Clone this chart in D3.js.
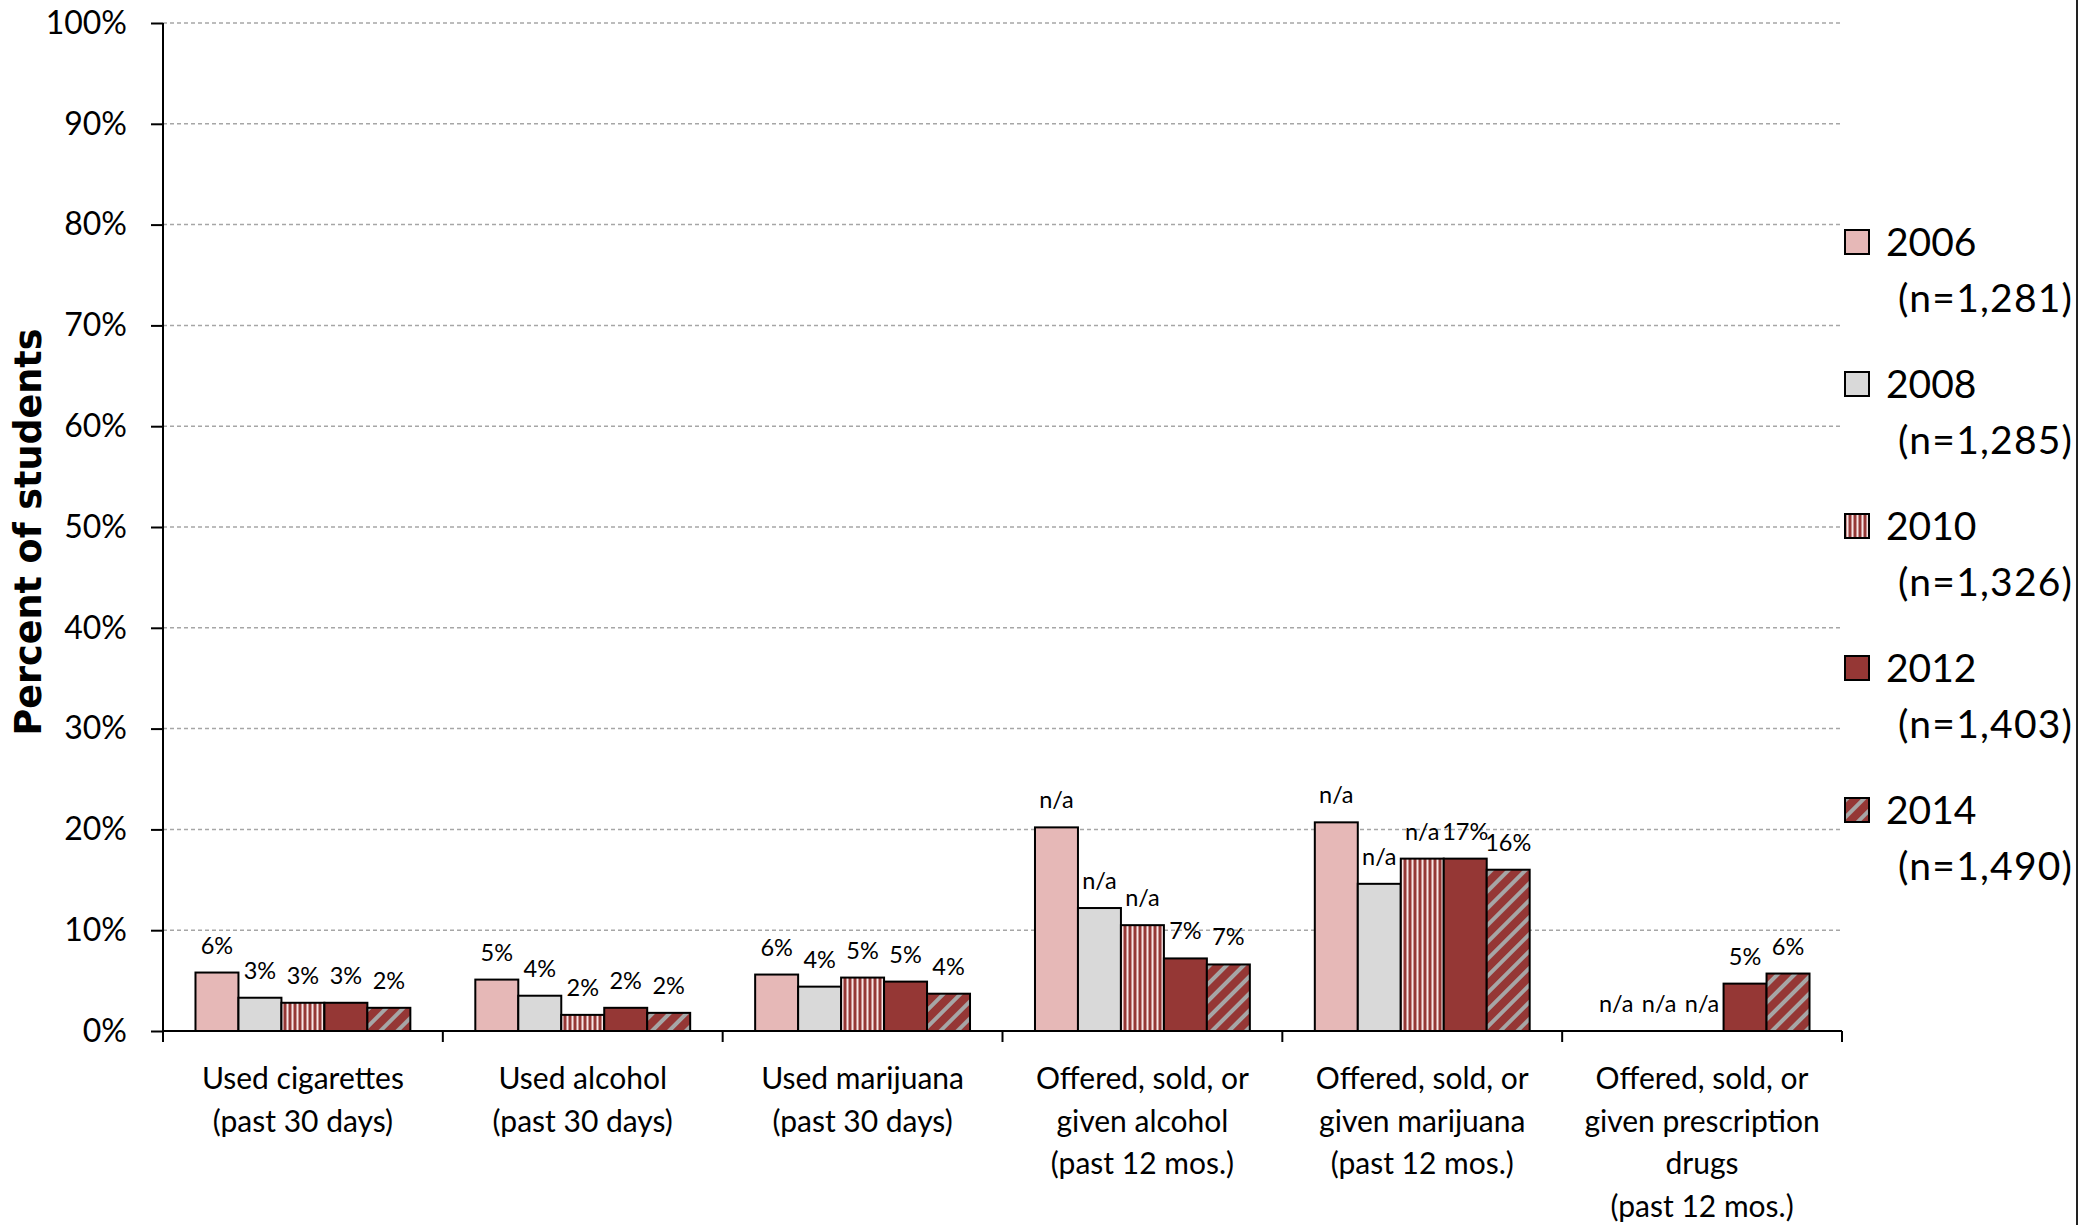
<!DOCTYPE html>
<html>
<head>
<meta charset="utf-8">
<script src="https://cdn.jsdelivr.net/npm/d3@7"></script>
<style>
  html, body { margin: 0; padding: 0; background: #fff; }
  svg { display: block; }
</style>
</head>
<body>
<svg id="chart" width="2078" height="1225"></svg>
<script>
// ---------- DATA ----------
const categories = [
  ["Used cigarettes", "(past 30 days)"],
  ["Used alcohol", "(past 30 days)"],
  ["Used marijuana", "(past 30 days)"],
  ["Offered, sold, or", "given alcohol", "(past 12 mos.)"],
  ["Offered, sold, or", "given marijuana", "(past 12 mos.)"],
  ["Offered, sold, or", "given prescription", "drugs", "(past 12 mos.)"]
];
const years = ["2006", "2008", "2010", "2012", "2014"];
const sampleSizes = ["(n=1,281)", "(n=1,285)", "(n=1,326)", "(n=1,403)", "(n=1,490)"];

const values2006 = [5.8, 5.1, 5.6, 20.2, 20.7, null];
const values2008 = [3.3, 3.5, 4.4, 12.2, 14.6, null];
const values2010 = [2.8, 1.6, 5.3, 10.5, 17.1, null];
const values2012 = [2.8, 2.3, 4.9, 7.2, 17.1, 4.7];
const values2014 = [2.3, 1.8, 3.7, 6.6, 16.0, 5.7];

const labels2006 = ["6%", "5%", "6%", "n/a", "n/a", "n/a"];
const labels2008 = ["3%", "4%", "4%", "n/a", "n/a", "n/a"];
const labels2010 = ["3%", "2%", "5%", "n/a", "n/a", "n/a"];
const labels2012 = ["3%", "2%", "5%", "7%", "17%", "5%"];
const labels2014 = ["2%", "2%", "4%", "7%", "16%", "6%"];

const yTicks = [0, 10, 20, 30, 40, 50, 60, 70, 80, 90, 100];

const seriesValues = [values2006, values2008, values2010, values2012, values2014];
const seriesLabels = [labels2006, labels2008, labels2010, labels2012, labels2014];

// ---------- LAYOUT ----------
const svg = d3.select("#chart");
const plot = { left: 163, right: 1842, top: 23, bottom: 1031 };
const fontMain = "Lato, 'Open Sans', sans-serif";

const catIdx = d3.range(categories.length);
const x0 = d3.scaleBand().domain(catIdx).range([plot.left, plot.right]).paddingInner(0).paddingOuter(0);
const x1 = d3.scaleBand().domain(years).range([0, x0.bandwidth()]).paddingInner(0).paddingOuter(0.756);
const y = d3.scaleLinear().domain([0, 100]).range([plot.bottom, plot.top]);

// ---------- PATTERNS ----------
const defs = svg.append("defs");
const dark = "#953735";
const pv = defs.append("pattern").attr("id", "vstripe").attr("patternUnits", "userSpaceOnUse")
  .attr("width", 5).attr("height", 10);
pv.append("rect").attr("width", 5).attr("height", 10).attr("fill", dark);
pv.append("rect").attr("x", 1.5).attr("width", 2).attr("height", 10).attr("fill", "#F7E6E6");

const pd = defs.append("pattern").attr("id", "dstripe").attr("patternUnits", "userSpaceOnUse")
  .attr("width", 12).attr("height", 12).attr("patternTransform", "rotate(45)");
pd.append("rect").attr("width", 12).attr("height", 12).attr("fill", dark);
pd.append("rect").attr("x", 0).attr("width", 4).attr("height", 12).attr("fill", "#A6A6A6");

const fills = ["#E6B8B7", "#D9D9D9", "url(#vstripe)", dark, "url(#dstripe)"];

// ---------- GRIDLINES ----------
svg.append("g").selectAll("line").data(yTicks.filter(d => d > 0)).join("line")
  .attr("x1", plot.left).attr("x2", plot.right)
  .attr("y1", d => y(d)).attr("y2", d => y(d))
  .attr("stroke", "#A6A6A6").attr("stroke-width", 1.5).attr("stroke-dasharray", "4,3");

// ---------- BARS ----------
const barData = [];
years.forEach((yr, si) => {
  catIdx.forEach(ci => {
    barData.push({ yr, si, ci, v: seriesValues[si][ci], label: seriesLabels[si][ci] });
  });
});

svg.append("g").selectAll("rect").data(barData.filter(d => d.v != null)).join("rect")
  .attr("x", d => x0(d.ci) + x1(d.yr))
  .attr("y", d => y(d.v))
  .attr("width", x1.bandwidth())
  .attr("height", d => y(0) - y(d.v))
  .attr("fill", d => fills[d.si])
  .attr("stroke", "#000").attr("stroke-width", 2);

// data labels
svg.append("g").selectAll("text").data(barData).join("text")
  .attr("x", d => x0(d.ci) + x1(d.yr) + x1.bandwidth() / 2)
  .attr("y", d => y(d.v == null ? 0 : d.v) - 19)
  .attr("text-anchor", "middle")
  .attr("font-family", fontMain).attr("font-size", 23.5).attr("fill", "#000")
  .text(d => d.label);

// ---------- Y AXIS ----------
const yAxis = svg.append("g").attr("transform", `translate(${plot.left},0)`)
  .call(d3.axisLeft(y).tickValues(yTicks).tickSize(12).tickPadding(24).tickFormat(d => d + "%"));
yAxis.select(".domain").attr("stroke", "#000").attr("stroke-width", 2)
  .attr("d", `M0,${plot.top}V${plot.bottom + 11}`);
yAxis.selectAll(".tick line").attr("stroke", "#000").attr("stroke-width", 2);
yAxis.selectAll(".tick text").attr("font-family", fontMain).attr("font-size", 32).attr("fill", "#000");

// ---------- X AXIS ----------
const xg = svg.append("g");
xg.append("line").attr("x1", plot.left).attr("x2", plot.right)
  .attr("y1", y(0)).attr("y2", y(0)).attr("stroke", "#000").attr("stroke-width", 2);
const boundaries = catIdx.map(i => x0(i)).concat([x0.range()[1]]);
xg.selectAll("line.b").data(boundaries).join("line").attr("class", "b")
  .attr("x1", d => d).attr("x2", d => d)
  .attr("y1", y(0)).attr("y2", y(0) + 11)
  .attr("stroke", "#000").attr("stroke-width", 2);

const catLabels = xg.selectAll("text.cat").data(catIdx).join("text").attr("class", "cat")
  .attr("text-anchor", "middle")
  .attr("font-family", fontMain).attr("font-size", 30).attr("fill", "#000");
catLabels.each(function (ci) {
  const t = d3.select(this);
  categories[ci].forEach((line, li) => {
    t.append("tspan").attr("x", x0(ci) + x0.bandwidth() / 2).attr("y", 1089 + li * 42.5).text(line);
  });
});

// ---------- Y TITLE ----------
svg.append("text")
  .attr("transform", "translate(41,532) rotate(-90)")
  .attr("text-anchor", "middle")
  .attr("font-family", "'DejaVu Sans', sans-serif").attr("font-weight", "bold")
  .attr("font-size", 36.5).attr("fill", "#000")
  .text("Percent of students");

// ---------- LEGEND ----------
const legend = svg.append("g");
const lg = legend.selectAll("g").data(years).join("g")
  .attr("transform", (d, i) => `translate(0,${242 + i * 142})`);
lg.append("rect").attr("x", 1845).attr("y", -12).attr("width", 24).attr("height", 24)
  .attr("fill", (d, i) => fills[i]).attr("stroke", "#000").attr("stroke-width", 2);
lg.append("text").attr("x", 1886).attr("y", 14)
  .attr("font-family", fontMain).attr("font-size", 39).attr("fill", "#000")
  .text(d => d);
lg.append("text").attr("x", 2072).attr("y", 70).attr("text-anchor", "end")
  .attr("font-family", fontMain).attr("font-size", 39).attr("fill", "#000")
  .attr("textLength", 174).attr("lengthAdjust", "spacing")
  .text((d, i) => sampleSizes[i]);

// right border line
svg.append("line").attr("x1", 2077).attr("x2", 2077).attr("y1", 0).attr("y2", 1225)
  .attr("stroke", "#222").attr("stroke-width", 2);
</script>
</body>
</html>
